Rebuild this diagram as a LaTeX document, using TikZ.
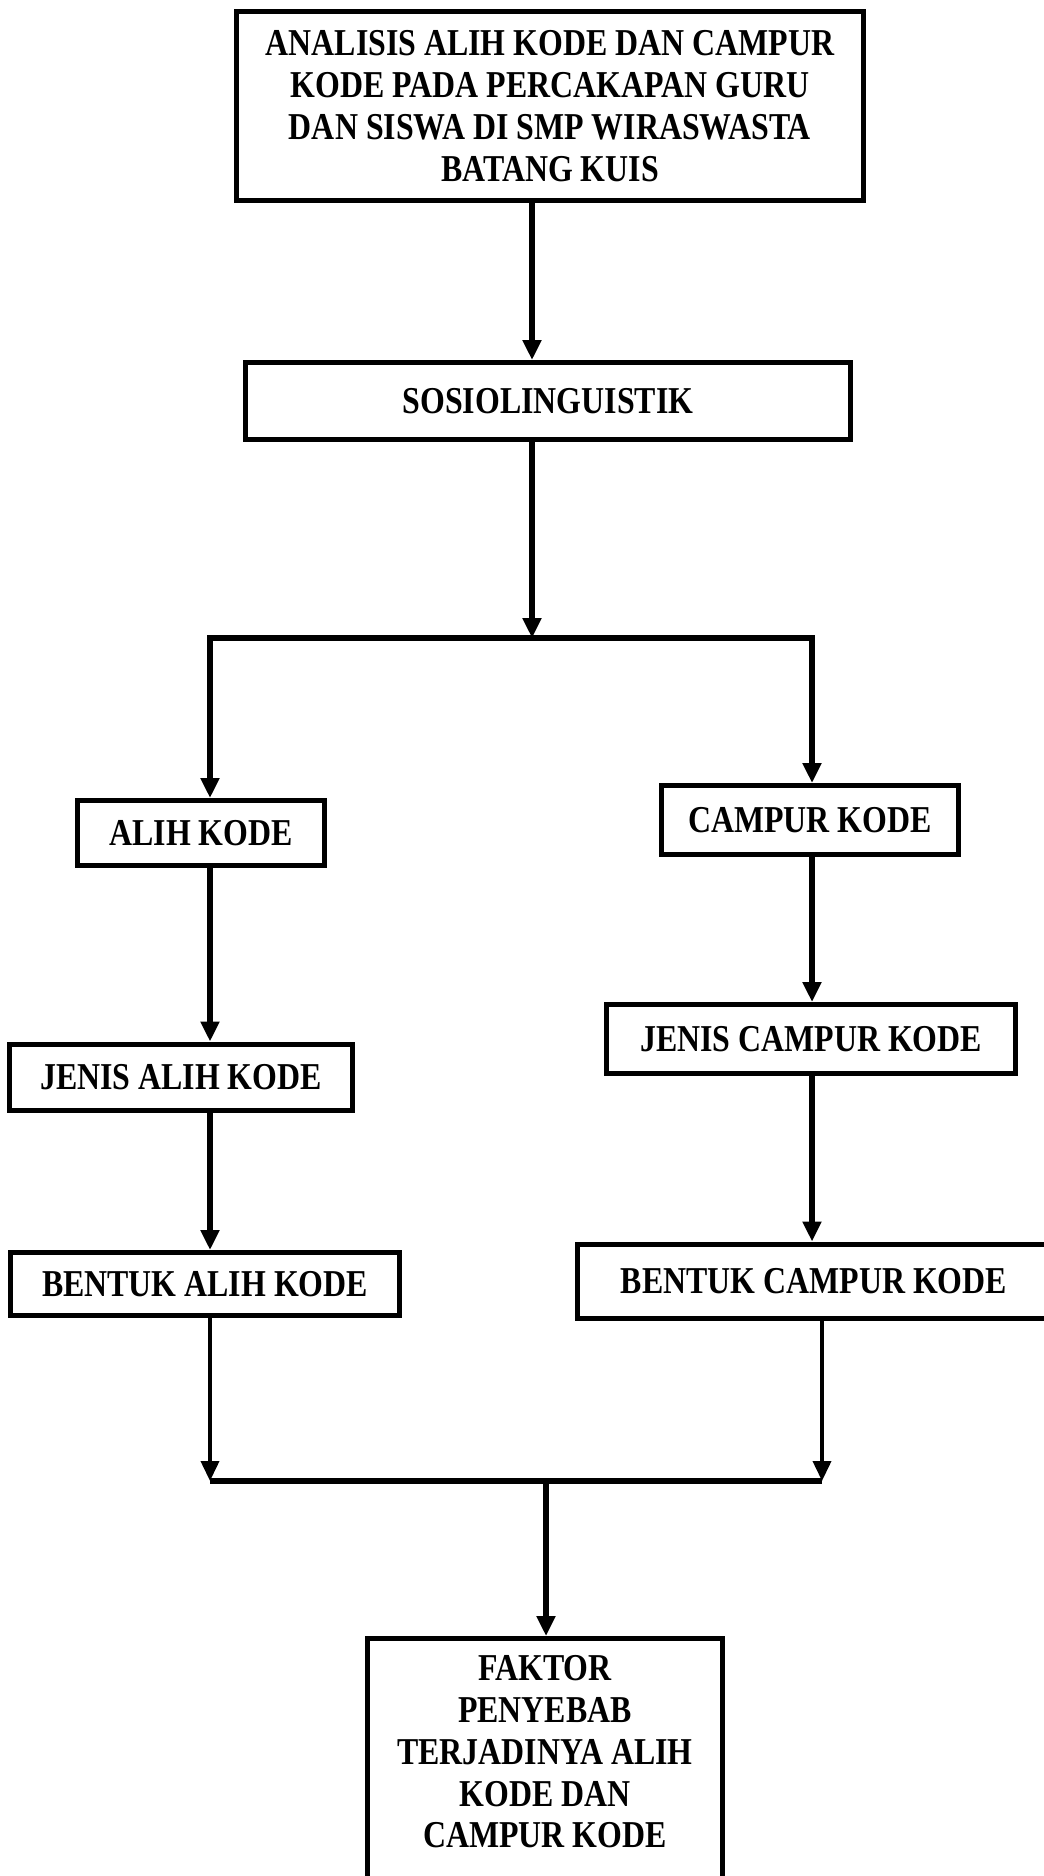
\documentclass[tikz,border=0pt]{standalone}
\usepackage{fontspec}
\newfontfamily\flowfont[FakeStretch=0.84]{Liberation Serif}
\usetikzlibrary{arrows.meta}

\tikzset{
  box/.style={draw, line width=1mm, align=center, inner sep=0pt,
    font=\flowfont\bfseries\fontsize{21.6pt}{23.8pt}\selectfont},
  link/.style={line width=1.2mm},
  thinlink/.style={line width=0.75mm},
  >={Triangle[width=3.6mm, length=4mm]}
}

\begin{document}
\begin{tikzpicture}[x=0.2mm, y=-0.2mm]
  \useasboundingbox (0, 0) rectangle (1043, 1876);

  \node[box, minimum width=125.4mm, minimum height=37.6mm] (title) at (550, 106)
    {ANALISIS ALIH KODE DAN CAMPUR\\KODE PADA PERCAKAPAN GURU\\DAN SISWA DI SMP WIRASWASTA\\BATANG KUIS};
  \node[box, minimum width=121mm, minimum height=15.4mm] (sosio) at (548, 401) {SOSIOLINGUISTIK};

  \node[box, minimum width=49.2mm, minimum height=13mm] (alih) at (201, 833) {ALIH KODE};
  \node[box, minimum width=59.4mm, minimum height=13.8mm] (campur) at (810, 820) {CAMPUR KODE};
  \node[box, minimum width=68.4mm, minimum height=13.2mm] (jalih) at (181, 1077) {JENIS ALIH KODE};
  \node[box, minimum width=81.8mm, minimum height=13.8mm] (jcampur) at (811, 1039) {JENIS CAMPUR KODE};
  \node[box, minimum width=77.8mm, minimum height=12.6mm] (balih) at (205, 1284) {BENTUK ALIH KODE};
  \node[box, minimum width=94.6mm, minimum height=14.8mm] (bcampur) at (814, 1281) {BENTUK CAMPUR KODE};

  \node[box, minimum width=71mm, anchor=north, inner ysep=3.4mm, text depth=14mm] (faktor) at (545, 1636)
    {FAKTOR\\PENYEBAB\\TERJADINYA ALIH\\KODE DAN\\CAMPUR KODE};

  \coordinate (split) at (532, 638);
  \coordinate (join) at (546, 1481);
  \coordinate (lcol) at (210, 638);
  \coordinate (rcol) at (812, 638);
  \coordinate (rjoin) at (822, 1481);

  \draw[link, ->] (title.south -| split) -- (sosio.north -| split);
  \draw[link, ->] (sosio.south -| split) -- (split);
  \draw[link, ->] (split) -- (lcol) -- (lcol |- alih.north);
  \draw[link, ->] (split) -- (rcol) -- (rcol |- campur.north);

  \draw[link, ->] (alih.south -| lcol) -- (jalih.north -| lcol);
  \draw[link, ->] (jalih.south -| lcol) -- (balih.north -| lcol);
  \draw[link, ->] (campur.south -| rcol) -- (jcampur.north -| rcol);
  \draw[link, ->] (jcampur.south -| rcol) -- (bcampur.north -| rcol);

  \draw[thinlink, ->] (balih.south -| lcol) -- (join -| lcol);
  \draw[thinlink, ->] (bcampur.south -| rjoin) -- (rjoin);
  \draw[link] (join -| lcol) -- (rjoin);
  \draw[link, ->] (join) -- (join |- faktor.north);

\end{tikzpicture}
\end{document}
